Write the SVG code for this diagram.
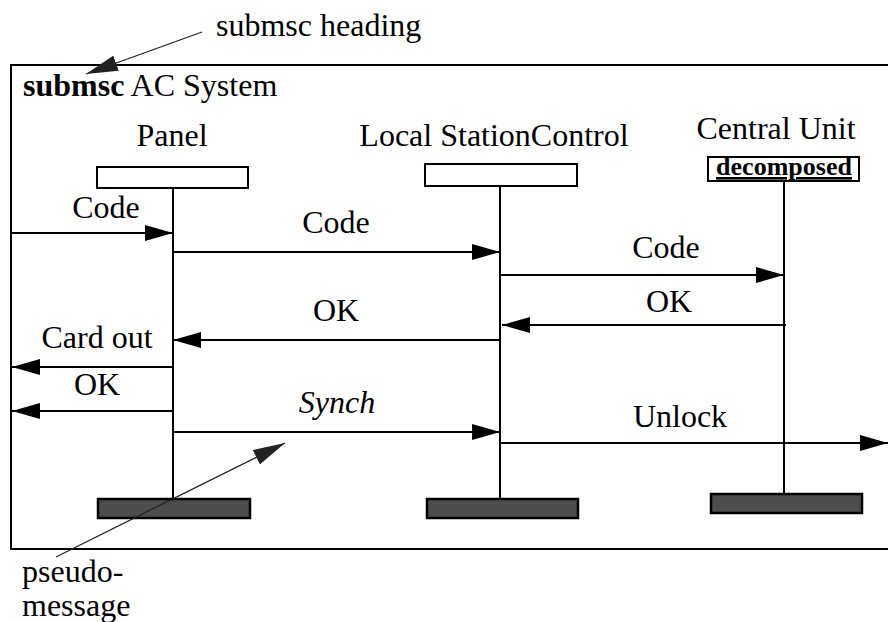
<svg xmlns="http://www.w3.org/2000/svg" width="888" height="622" viewBox="0 0 888 622" font-family="'Liberation Serif', 'DejaVu Serif', serif">
  <style>
    text { font-family: "Liberation Serif", "DejaVu Serif", serif; font-size: 32px; fill: #000; }
    .mid { text-anchor: middle; }
    .kind { font-size: 26px; font-weight: bold; text-decoration: underline; }
    .line { stroke: #000; stroke-width: 2; fill: none; }
    .msg { stroke: #000; stroke-width: 2; fill: none; marker-end: url(#arrow); }
    .note { stroke: #222; stroke-width: 1.3; fill: none; marker-end: url(#noteArrow); }
    .head { fill: #fff; stroke: #000; stroke-width: 2; }
    .foot { fill: #4d4d4d; stroke: #000; stroke-width: 2.5; }
  </style>
  <defs>
    <marker id="arrow" markerUnits="userSpaceOnUse" markerWidth="28" markerHeight="16" refX="28" refY="8" orient="auto">
      <path d="M0,0 L28,8 L0,16 z" fill="#000"/>
    </marker>
    <marker id="noteArrow" markerUnits="userSpaceOnUse" markerWidth="32" markerHeight="16" refX="32" refY="8" orient="auto">
      <path d="M0,0 L32,8 L0,16 z" fill="#222"/>
    </marker>
  </defs>

  <rect width="888" height="622" fill="#fff"/>

  <!-- submsc frame (open to the right) -->
  <g id="frame">
    <path class="line" d="M888,65 H11 V549 H888"/>
    <text x="23" y="96"><tspan font-weight="bold">submsc</tspan> AC System</text>
  </g>

  <!-- instances -->
  <g id="panel">
    <text class="mid" x="172" y="146">Panel</text>
    <rect class="head" x="97" y="167" width="151" height="21"/>
    <line class="line" x1="173" y1="188" x2="173" y2="499"/>
    <rect class="foot" x="98" y="499" width="152" height="19"/>
  </g>

  <g id="local-station-control">
    <text class="mid" x="494" y="146">Local StationControl</text>
    <rect class="head" x="425" y="164" width="152" height="22"/>
    <line class="line" x1="500" y1="186" x2="500" y2="499"/>
    <rect class="foot" x="427" y="499" width="151" height="19"/>
  </g>

  <g id="central-unit">
    <text class="mid" x="776" y="139">Central Unit</text>
    <rect class="head" x="708" y="157" width="151" height="24"/>
    <text class="mid kind" x="784" y="175">decomposed</text>
    <line class="line" x1="784" y1="181" x2="784" y2="494"/>
    <rect class="foot" x="711" y="494" width="151" height="19"/>
  </g>

  <!-- messages -->
  <g id="messages">
    <line class="msg" x1="11" y1="233" x2="173" y2="233"/>
    <text class="mid" x="106" y="218">Code</text>

    <line class="msg" x1="173" y1="252" x2="500" y2="252"/>
    <text class="mid" x="336" y="233">Code</text>

    <line class="msg" x1="500" y1="275" x2="784" y2="275"/>
    <text class="mid" x="666" y="258">Code</text>

    <line class="msg" x1="786" y1="325" x2="502" y2="325"/>
    <text class="mid" x="669" y="312">OK</text>

    <line class="msg" x1="501" y1="340" x2="173" y2="340"/>
    <text class="mid" x="336" y="321">OK</text>

    <line class="msg" x1="173" y1="367" x2="12" y2="367"/>
    <text class="mid" x="97" y="348">Card out</text>

    <line class="msg" x1="173" y1="411" x2="12" y2="411"/>
    <text class="mid" x="97" y="395">OK</text>

    <line class="msg" x1="173" y1="432" x2="500" y2="432"/>
    <text class="mid" x="337" y="413" font-style="italic">Synch</text>

    <line class="msg" x1="500" y1="443" x2="888" y2="443"/>
    <text class="mid" x="680" y="427">Unlock</text>
  </g>

  <!-- annotations -->
  <g id="annotations">
    <text x="216" y="36">submsc heading</text>
    <line class="note" x1="202" y1="32" x2="86" y2="74"/>
    <text x="22" y="582">pseudo-</text>
    <text x="22" y="616">message</text>
    <line class="note" x1="56" y1="557" x2="285" y2="443"/>
  </g>
</svg>
